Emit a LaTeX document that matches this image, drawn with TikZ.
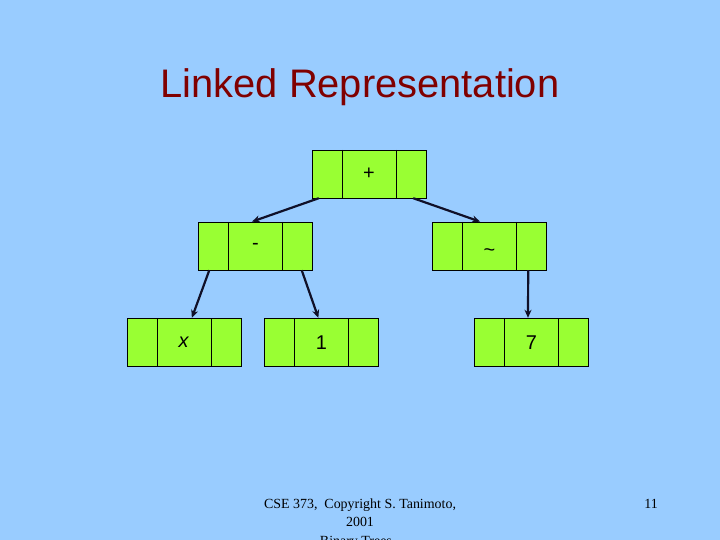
\documentclass[tikz,border=0pt]{standalone}
\usepackage{fontspec}
\setmainfont{Liberation Serif}
\newfontfamily\arialfont{Liberation Sans}
\usetikzlibrary{arrows.meta}

\definecolor{slideblue}{HTML}{99CCFF}
\definecolor{cellgreen}{HTML}{99FF33}
\definecolor{titlered}{HTML}{800000}
\definecolor{linkblue}{HTML}{101028}

\tikzset{
    cell/.style={draw=black, fill=cellgreen, minimum width=114bp, minimum height=48bp,
        inner sep=0pt, font=\arialfont\fontsize{20}{24}\selectfont,
        path picture={
            \draw ([xshift=30bp]path picture bounding box.north west)
                -- ([xshift=30bp]path picture bounding box.south west);
            \draw ([xshift=-30bp]path picture bounding box.north east)
                -- ([xshift=-30bp]path picture bounding box.south east);
        }},
    link/.style={draw=linkblue, line width=2.2bp, -{Stealth[length=8bp,width=7bp]}, shorten >=0.5bp}
}

\begin{document}
\begin{tikzpicture}[x=1bp,y=-1bp]
    \fill[slideblue] (0,0) rectangle (720,540);
    \useasboundingbox (0,0) rectangle (720,540);

    \node[text=titlered, anchor=base, font=\arialfont\fontsize{40}{44}\selectfont] (title) at (360,97.7) {Linked Representation};

    \node[cell] (root) at (369,174) {+};
    \node[cell] (minus) at (255.5,246) {-};
    \node[cell] (tilde) at (489.5,246) {\smash{\raisebox{-11bp}{\char`~}}};
    \node[cell] (ex) at (183.7,342.5) {\itshape x};
    \node[cell] (one) at (321.5,342.5) {1};
    \node[cell] (seven) at (531.5,342.5) {7};

    \draw[link] ([xshift=7bp]root.south west) -- ([xshift=-4bp]minus.north);
    \draw[link] ([xshift=-13bp]root.south east) -- ([xshift=-9bp]tilde.north);
    \draw[link] ([xshift=11bp]minus.south west) -- ([xshift=8bp]ex.north);
    \draw[link] ([xshift=-11bp]minus.south east) -- ([xshift=-3bp]one.north);
    \draw[link] ([xshift=-18.5bp]tilde.south east) -- ([xshift=-3.5bp]seven.north);

    % footer
    \node[anchor=base, align=center, font=\fontsize{14}{18.4}\selectfont, inner sep=0pt] (foot) at (360,545.1)
        {CSE 373,\ \ Copyright S. Tanimoto,\\2001\\Binary Trees -};
    \node[anchor=base, font=\fontsize{14}{18}\selectfont, inner sep=0pt] (page) at (651,508.3) {11};
\end{tikzpicture}
\end{document}
